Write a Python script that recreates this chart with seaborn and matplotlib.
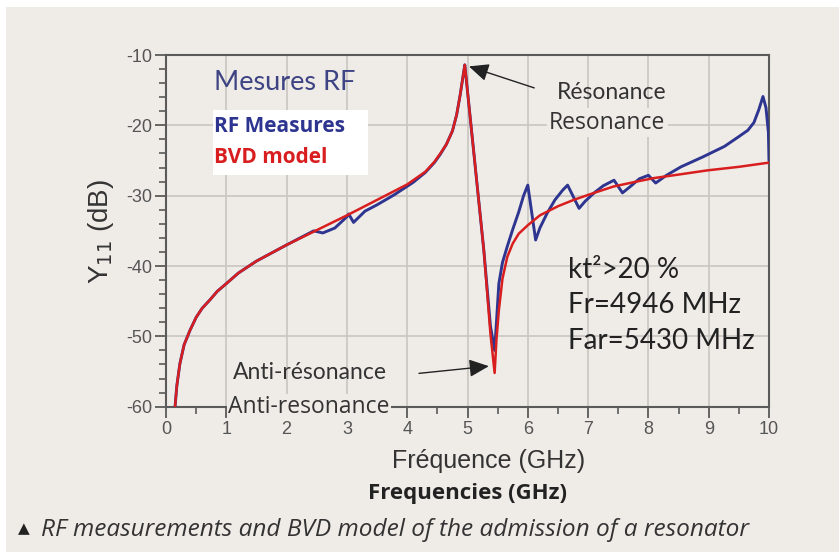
import numpy as np
import pandas as pd
import matplotlib.pyplot as plt
from matplotlib.ticker import MultipleLocator
from matplotlib.patches import Rectangle
import seaborn as sns

# values (GHz, dB)
bvd_freq = [0.15, 0.18, 0.23, 0.3, 0.4, 0.5, 0.6, 0.73, 0.85, 1.0, 1.2, 1.5, 2.0, 2.5,
            3.0, 3.5, 4.0, 4.3, 4.45, 4.55, 4.65, 4.75, 4.82, 4.88, 4.93, 4.955, 5.1,
            5.27, 5.38, 5.45, 5.48, 5.52, 5.58, 5.66, 5.75, 5.85, 6.0, 6.2, 6.5, 6.76,
            7.1, 7.42, 7.8, 8.09, 8.5, 8.98, 9.5, 10.0]
bvd_y11 = [-60, -57.0, -53.9, -51.2, -49.1, -47.3, -46.0, -44.8, -43.6, -42.5, -41.0,
           -39.3, -37.0, -34.9, -32.8, -30.6, -28.4, -26.6, -25.2, -24.0, -22.7, -20.8,
           -18.5, -15.6, -12.8, -11.4, -23.5, -37.7, -49.6, -55.2, -50.5, -46.3, -41.8,
           -38.7, -36.8, -35.4, -34.2, -32.8, -31.5, -30.6, -29.6, -28.7, -28.0, -27.5,
           -27.0, -26.4, -25.9, -25.3]

rf_freq = [0.15, 0.18, 0.23, 0.3, 0.4, 0.5, 0.6, 0.73, 0.85, 1.0, 1.2, 1.5, 2.0, 2.45,
           2.6, 2.8, 3.0, 3.03, 3.11, 3.3, 3.5, 3.78, 4.1, 4.3, 4.45, 4.55, 4.65, 4.75,
           4.82, 4.88, 4.93, 4.955, 5.1, 5.27, 5.38, 5.45, 5.48, 5.52, 5.58, 5.66, 5.75,
           5.85, 5.93, 6.0, 6.13, 6.2, 6.32, 6.45, 6.58, 6.66, 6.85, 6.95, 7.1, 7.25,
           7.43, 7.57, 7.7, 7.85, 8.0, 8.12, 8.3, 8.54, 8.9, 9.26, 9.5, 9.65, 9.75, 9.83,
           9.9, 9.95, 9.99, 10.0]
rf_y11 = [-60, -57.0, -53.9, -51.2, -49.1, -47.3, -46.0, -44.8, -43.6, -42.5, -41.0,
          -39.3, -37.0, -35.0, -35.3, -34.6, -33.0, -32.6, -33.8, -32.2, -31.3, -29.9,
          -28.1, -26.7, -25.3, -24.1, -22.7, -20.8, -18.5, -15.6, -12.8, -11.4, -23.5,
          -37.7, -48.5, -52.0, -48.0, -42.5, -39.5, -37.2, -34.8, -32.3, -30.0, -28.5,
          -36.3, -34.6, -32.5, -30.6, -29.2, -28.5, -31.8, -30.8, -29.6, -28.6, -27.8,
          -29.6, -28.7, -27.6, -27.1, -28.2, -27.1, -25.9, -24.5, -23.0, -21.6, -20.7,
          -19.6, -17.8, -15.9, -17.5, -21.0, -25.0]

x_ticks = [0, 1, 2, 3, 4, 5, 6, 7, 8, 9, 10]
y_ticks = [-60, -50, -40, -30, -20, -10]

rf = pd.DataFrame({"freq": rf_freq, "y11": rf_y11})
bvd = pd.DataFrame({"freq": bvd_freq, "y11": bvd_y11})

bg = "#efece8"
navy = "#2e3590"
red = "#d81e1e"
dark = "#333333"

sns.set_theme(style="whitegrid")
plt.rcParams["font.family"] = ["Liberation Sans", "DejaVu Sans"]
plt.rcParams["axes.unicode_minus"] = False

fig = plt.figure(figsize=(8.39, 5.52), dpi=100, facecolor="white")
fig.patches.append(Rectangle((6 / 839, 0), 1, 1 - 7 / 552, transform=fig.transFigure,
                             facecolor=bg, edgecolor="none", zorder=-10))
ax = fig.add_axes([166 / 839, 1 - 406.7 / 552, 603 / 839, 351.7 / 552])
ax.set_facecolor(bg)

sns.lineplot(data=rf, x="freq", y="y11", ax=ax, color=navy, lw=2.1,
             sort=False, estimator=None, zorder=3)
sns.lineplot(data=bvd, x="freq", y="y11", ax=ax, color=red, lw=1.8,
             sort=False, estimator=None, zorder=4)

ax.set_xlim(0, 10)
ax.set_ylim(-60, -10)
ax.set_xticks(x_ticks)
ax.set_yticks(y_ticks)
ax.xaxis.set_minor_locator(MultipleLocator(0.5))
ax.yaxis.set_minor_locator(MultipleLocator(2))
ax.grid(True, which="major", color="#c9c6c2", lw=1.2)
ax.grid(False, which="minor")
for s in ax.spines.values():
    s.set_color("#5a5a5a")
    s.set_linewidth(1.5)
ax.tick_params(which="major", direction="out", length=8, width=1.3, color="#5a5a5a",
               labelsize=13, labelcolor="#555555", left=True, bottom=True, pad=2)
ax.tick_params(which="minor", direction="out", length=5, width=1.2, color="#5a5a5a",
               left=True, bottom=True)
ax.set_xlabel("")
ax.set_ylabel("")

# axis titles
fig.text(489 / 839, 1 - 461 / 552, "Fréquence (GHz)", ha="center", va="center",
         fontsize=18, color=dark, family="Liberation Sans")
fig.text(468 / 839, 1 - 493 / 552, "Frequencies (GHz)", ha="center", va="center",
         fontsize=16, color="#222222", fontweight="bold", family="Open Sans")
fig.text(101 / 839, 1 - 232 / 552, "Y$_{11}$ (dB)", ha="center", va="center",
         rotation=90, fontsize=20, color=dark, family="Liberation Sans")

# legend-like labels on a white patch
ax.add_patch(Rectangle((0.78, -27.1), 2.57, 9.3, facecolor="white", edgecolor="none",
                       zorder=2.6))
ax.text(0.8, -13.9, "Mesures RF", fontsize=19.5, color="#3d4383", family="Lato",
        ha="left", va="center", zorder=5)
ax.text(0.8, -20.2, "RF Measures", fontsize=15, color=navy, fontweight="bold",
        family="Open Sans", ha="left", va="center", zorder=5)
ax.text(0.8, -24.6, "BVD model", fontsize=15, color=red, fontweight="bold",
        family="Open Sans", ha="left", va="center", zorder=5)

# resonance annotation
ax.annotate("", xy=(4.98, -11.5), xytext=(6.15, -14.8),
            arrowprops=dict(arrowstyle="-|>,head_length=1.0,head_width=0.45",
                            color="#222222", lw=1.0))
ax.text(6.48, -15.3, "Résonance", fontsize=16.5, color=dark, family="Lato",
        ha="left", va="center")
ax.text(6.35, -19.6, "Resonance", fontsize=16.5, color=dark, family="Open Sans",
        ha="left", va="center",
        bbox=dict(boxstyle="square,pad=0.1", fc=bg, ec="none"))

# anti-resonance annotation
ax.annotate("", xy=(5.4, -54.2), xytext=(4.15, -55.3),
            arrowprops=dict(arrowstyle="-|>,head_length=1.0,head_width=0.45",
                            color="#222222", lw=1.0))
ax.text(1.11, -55.1, "Anti-résonance", fontsize=16.5, color=dark, family="Lato",
        ha="left", va="center")
ax.text(1.03, -60.0, "Anti-resonance", fontsize=16.5, color=dark, family="Open Sans",
        ha="left", va="center", zorder=5,
        bbox=dict(boxstyle="square,pad=0.05", fc=bg, ec="none"))

# resonator parameters
for yv, txt in zip([-40.6, -45.6, -50.6], ["kt²>20 %", "Fr=4946 MHz", "Far=5430 MHz"]):
    ax.text(6.66, yv, txt, fontsize=20, color="#222222", family="Lato",
            ha="left", va="center")

# caption
fig.text(18 / 839, 1 - 529 / 552, "▲", fontsize=11, color="#222222",
         family="DejaVu Sans", ha="left", va="center")
fig.text(41 / 839, 1 - 530 / 552, "RF measurements and BVD model of the admission of a resonator",
         fontsize=17.6, color="#333333", style="italic", family="Open Sans",
         ha="left", va="center")

fig.savefig("out.png", dpi=100, facecolor="white")
